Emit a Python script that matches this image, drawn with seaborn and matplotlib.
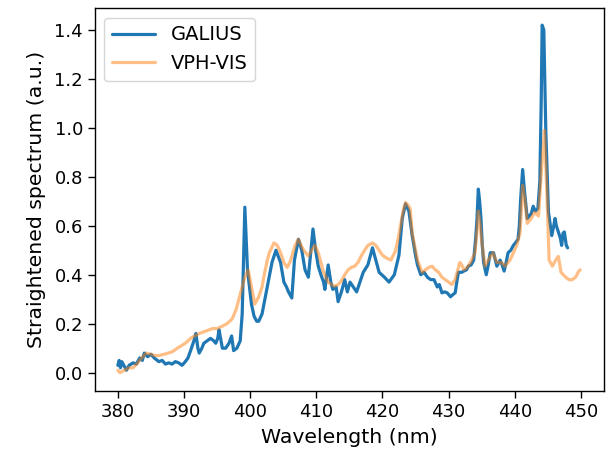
import pandas as pd
import seaborn as sns
import matplotlib
matplotlib.use("Agg")
import matplotlib.pyplot as plt

# GALIUS spectrum (wavelength in nm, straightened intensity in a.u.)
galius_wl = [380.0, 380.2, 380.4, 380.6, 380.9, 381.3, 381.7, 382.3, 382.8, 383.3,
             383.7, 384.0, 384.5, 385.0, 385.5, 386.2, 386.7, 387.2, 387.7, 388.2,
             388.7, 389.2, 389.7, 390.2, 390.6, 391.0, 391.5, 391.8, 392.1, 392.3,
             392.7, 393.0, 393.5, 394.0, 394.5, 394.8, 395.1, 395.3, 395.6, 395.8,
             396.3, 396.8, 397.2, 397.5, 398.0, 398.5, 398.8, 399.0, 399.2, 399.4,
             399.6, 400.2, 400.6, 401.0, 401.3, 401.8, 402.3, 402.8, 403.3, 403.9,
             404.6, 405.1, 405.5, 405.8, 406.3, 406.7, 407.3, 407.8, 408.3, 408.8,
             409.2, 409.5, 409.9, 410.3, 410.7, 411.1, 411.3, 411.8, 412.2, 412.5,
             413.0, 413.3, 413.8, 414.3, 414.7, 415.1, 415.6, 416.1, 416.6, 417.1,
             417.8, 418.5, 419.0, 419.5, 420.3, 421.0, 421.8, 422.5, 423.0, 423.5,
             424.0, 424.5, 425.0, 425.3, 425.8, 426.3, 426.8, 427.3, 427.8, 428.3,
             428.6, 429.0, 429.4, 429.8, 430.3, 430.7, 431.0, 431.3, 431.5, 432.0,
             432.3, 432.7, 433.0, 433.4, 433.8, 434.1, 434.3, 434.5, 434.7, 434.9,
             435.1, 435.3, 435.7, 436.0, 436.3, 436.8, 437.3, 437.8, 438.1, 438.4,
             438.7, 439.0, 439.4, 439.8, 440.1, 440.5, 440.7, 440.9, 441.2, 441.5,
             441.9, 442.2, 442.5, 442.8, 443.1, 443.5, 443.8, 444.0, 444.15, 444.4,
             444.7, 445.1, 445.6, 445.9, 446.1, 446.3, 446.6, 446.9, 447.1, 447.3,
             447.5, 447.8, 448.0]
galius_val = [0.03, 0.05, 0.02, 0.045, 0.03, 0.01, 0.03, 0.04, 0.035, 0.06,
              0.05, 0.08, 0.065, 0.075, 0.06, 0.045, 0.05, 0.035, 0.04, 0.035,
              0.045, 0.04, 0.03, 0.045, 0.06, 0.09, 0.13, 0.16, 0.10, 0.08,
              0.10, 0.12, 0.13, 0.14, 0.13, 0.12, 0.14, 0.175, 0.13, 0.10,
              0.10, 0.12, 0.15, 0.09, 0.10, 0.13, 0.24, 0.45, 0.676, 0.55,
              0.42, 0.28, 0.23, 0.21, 0.21, 0.24, 0.31, 0.38, 0.45, 0.50,
              0.45, 0.37, 0.35, 0.33, 0.305, 0.46, 0.545, 0.50, 0.42, 0.39,
              0.50, 0.587, 0.50, 0.435, 0.40, 0.37, 0.34, 0.44, 0.37, 0.34,
              0.35, 0.29, 0.33, 0.38, 0.33, 0.37, 0.35, 0.33, 0.37, 0.41,
              0.44, 0.51, 0.46, 0.41, 0.39, 0.37, 0.40, 0.48, 0.63, 0.69,
              0.66, 0.56, 0.48, 0.44, 0.40, 0.41, 0.39, 0.38, 0.38, 0.35,
              0.36, 0.326, 0.33, 0.326, 0.31, 0.32, 0.326, 0.38, 0.41, 0.41,
              0.415, 0.42, 0.435, 0.44, 0.46, 0.55, 0.63, 0.75, 0.70, 0.63,
              0.52, 0.45, 0.40, 0.44, 0.49, 0.49, 0.435, 0.46, 0.44, 0.415,
              0.45, 0.49, 0.50, 0.52, 0.53, 0.545, 0.60, 0.71, 0.83, 0.735,
              0.63, 0.64, 0.65, 0.68, 0.66, 0.67, 0.78, 1.10, 1.42, 1.40,
              0.99, 0.657, 0.56, 0.60, 0.63, 0.60, 0.575, 0.55, 0.52, 0.57,
              0.575, 0.52, 0.51]

# VPH-VIS spectrum
vph_wl = [380.0, 380.3, 381.0, 381.7, 382.3, 383.0, 383.6, 384.3, 385.0, 385.6,
          386.2, 387.0, 387.6, 388.2, 389.0, 389.6, 390.2, 391.0, 391.6, 392.3,
          393.3, 394.3, 395.0, 395.8, 396.5, 397.3, 397.9, 398.3, 398.8, 399.2,
          399.7, 400.2, 400.7, 401.3, 401.8, 402.2, 402.6, 402.9, 403.6, 404.1,
          404.6, 405.1, 405.6, 406.0, 406.3, 406.8, 407.3, 407.7, 408.1, 408.8,
          409.3, 409.8, 410.3, 410.7, 411.1, 411.8, 412.3, 412.8, 413.3, 413.8,
          414.3, 414.8, 415.3, 415.8, 416.3, 416.8, 417.3, 417.8, 418.5, 419.0,
          419.5, 420.0, 420.5, 421.3, 422.0, 422.4, 422.8, 423.2, 423.5, 424.0,
          424.2, 424.5, 425.0, 425.3, 426.0, 426.5, 427.0, 427.5, 428.0, 428.5,
          429.0, 429.5, 430.0, 430.5, 431.0, 431.3, 431.7, 432.0, 432.3, 432.8,
          433.3, 434.0, 434.3, 434.5, 434.8, 435.0, 435.5, 436.0, 436.7, 437.3,
          438.0, 438.5, 439.3, 439.8, 440.3, 440.8, 441.0, 441.2, 441.5, 441.9,
          442.5, 443.0, 443.6, 444.1, 444.5, 444.9, 445.2, 445.7, 446.2, 446.6,
          447.0, 447.7, 448.2, 448.7, 449.2, 449.7, 449.9]
vph_val = [0.01, 0.0, 0.01, 0.02, 0.02, 0.04, 0.06, 0.08, 0.075, 0.07,
           0.07, 0.075, 0.08, 0.085, 0.10, 0.11, 0.12, 0.14, 0.15, 0.16,
           0.17, 0.18, 0.18, 0.19, 0.20, 0.22, 0.26, 0.30, 0.35, 0.39,
           0.42, 0.35, 0.28, 0.31, 0.35, 0.41, 0.46, 0.49, 0.53, 0.52,
           0.49, 0.45, 0.43, 0.45, 0.475, 0.52, 0.545, 0.52, 0.50, 0.477,
           0.50, 0.52, 0.49, 0.45, 0.41, 0.37, 0.36, 0.353, 0.36, 0.375,
           0.40, 0.42, 0.43, 0.435, 0.45, 0.477, 0.50, 0.52, 0.53, 0.52,
           0.50, 0.48, 0.47, 0.46, 0.50, 0.55, 0.61, 0.67, 0.695, 0.68,
           0.67, 0.57, 0.50, 0.46, 0.41, 0.42, 0.43, 0.435, 0.42, 0.41,
           0.39, 0.38, 0.37, 0.36, 0.38, 0.41, 0.45, 0.44, 0.42, 0.43,
           0.45, 0.49, 0.58, 0.66, 0.60, 0.54, 0.435, 0.46, 0.49, 0.45,
           0.45, 0.435, 0.46, 0.49, 0.52, 0.57, 0.66, 0.765, 0.71, 0.61,
           0.63, 0.655, 0.64, 0.85, 0.99, 0.71, 0.46, 0.435, 0.46, 0.475,
           0.41, 0.39, 0.38, 0.38, 0.39, 0.415, 0.42]

galius = pd.DataFrame({"wl": galius_wl, "val": galius_val})
vph = pd.DataFrame({"wl": vph_wl, "val": vph_val})

sns.set_theme(style="ticks", rc={
    "axes.edgecolor": "black",
    "axes.labelcolor": "black",
    "xtick.color": "black",
    "ytick.color": "black",
    "text.color": "black",
})
plt.rcParams["font.family"] = ["DejaVu Sans"]

fig = plt.figure(figsize=(6.1, 4.53), dpi=100)
ax = fig.add_axes([94.7 / 610, 62 / 453, 509.3 / 610, 383 / 453])

sns.lineplot(data=galius, x="wl", y="val", ax=ax, color="#1f77b4",
             linewidth=2.3, label="GALIUS")
sns.lineplot(data=vph, x="wl", y="val", ax=ax, color="#ff7f0e", alpha=0.5,
             linewidth=2.3, label="VPH-VIS")

ax.set_xlim(376.5, 453.5)
ax.set_ylim(-0.075, 1.49)
ax.set_xticks([380, 390, 400, 410, 420, 430, 440, 450])
ax.set_yticks([0.0, 0.2, 0.4, 0.6, 0.8, 1.0, 1.2, 1.4])
ax.tick_params(labelsize=13, width=1, length=5)
ax.set_xlabel("Wavelength (nm)", fontsize=14.7, labelpad=5)
ax.set_ylabel("Straightened spectrum (a.u.)", fontsize=14.7, labelpad=6)
for s in ax.spines.values():
    s.set_linewidth(1.0)

ax.legend(loc="upper left", fontsize=14, handlelength=2.2)

fig.savefig("out.png", dpi=100)
